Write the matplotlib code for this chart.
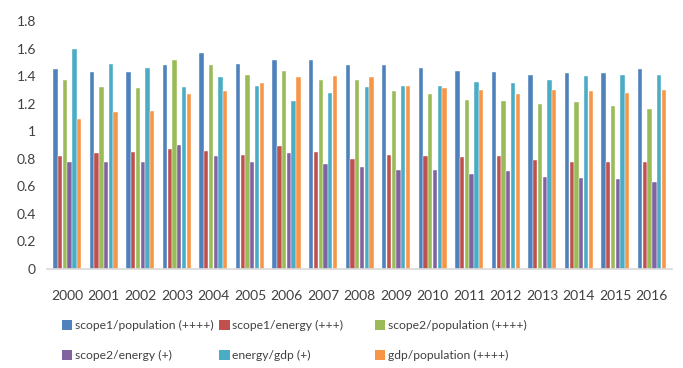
import numpy as np
import matplotlib.pyplot as plt
from matplotlib.patches import Patch

plt.rcParams['font.family'] = ['Lato', 'DejaVu Sans']

years = [str(y) for y in range(2000, 2017)]
scope1_population = [1.45, 1.43, 1.43, 1.48, 1.57, 1.49, 1.52, 1.52, 1.48, 1.48, 1.46, 1.44, 1.43, 1.41, 1.42, 1.42, 1.45]
scope1_energy = [0.82, 0.84, 0.85, 0.87, 0.86, 0.83, 0.89, 0.85, 0.80, 0.83, 0.82, 0.81, 0.82, 0.79, 0.78, 0.78, 0.78]
scope2_population = [1.37, 1.32, 1.31, 1.52, 1.48, 1.41, 1.44, 1.37, 1.37, 1.29, 1.27, 1.23, 1.22, 1.20, 1.21, 1.18, 1.16]
scope2_energy = [0.78, 0.78, 0.78, 0.90, 0.82, 0.78, 0.84, 0.76, 0.74, 0.72, 0.72, 0.69, 0.71, 0.67, 0.66, 0.65, 0.63]
energy_gdp = [1.60, 1.49, 1.46, 1.32, 1.39, 1.33, 1.22, 1.28, 1.32, 1.33, 1.33, 1.36, 1.35, 1.37, 1.40, 1.41, 1.41]
gdp_population = [1.09, 1.14, 1.15, 1.27, 1.29, 1.35, 1.39, 1.40, 1.39, 1.33, 1.31, 1.30, 1.27, 1.30, 1.29, 1.28, 1.30]

series = [scope1_population, scope1_energy, scope2_population, scope2_energy, energy_gdp, gdp_population]
labels = ["scope1/population (++++)", "scope1/energy (+++)", "scope2/population (++++)",
          "scope2/energy (+)", "energy/gdp (+)", "gdp/population (++++)"]
colors = ["#4F81BD", "#C0504D", "#9BBB59", "#8064A2", "#4BACC6", "#F79646"]
yticks = [0, 0.2, 0.4, 0.6, 0.8, 1.0, 1.2, 1.4, 1.6, 1.8]
ytick_labels = ["0", "0.2", "0.4", "0.6", "0.8", "1", "1.2", "1.4", "1.6", "1.8"]

fig = plt.figure(figsize=(6.83, 3.68), dpi=100)
ax = fig.add_axes([0.069, 0.269, 0.915, 0.674])

x = np.arange(len(years))
step = 0.13
width = 0.118
for i, (vals, c) in enumerate(zip(series, colors)):
    ax.bar(x + (i - 2.5) * step, vals, width=width, color=c, edgecolor="white", linewidth=0.3)

ax.set_xlim(-0.55, len(years) - 0.45)
ax.set_ylim(0, 1.8)
ax.set_yticks(yticks)
ax.set_yticklabels(ytick_labels)
ax.set_xticks(x)
ax.set_xticklabels(years)
ax.tick_params(length=0, labelsize=10, colors="#404040")
ax.tick_params(axis="x", pad=15)
ax.tick_params(axis="y", pad=8)
for s in ["top", "right", "left"]:
    ax.spines[s].set_visible(False)
ax.spines["bottom"].set_color("#D9D9D9")
ax.spines["bottom"].set_linewidth(1.2)

handles = [Patch(facecolor=c) for c in colors]
col_x = [0.091, 0.321, 0.549]
for j in range(3):
    leg = fig.legend(handles=[handles[j], handles[j + 3]], labels=[labels[j], labels[j + 3]],
                     loc="upper left", bbox_to_anchor=(col_x[j], 0.13), frameon=False,
                     handlelength=0.85, handleheight=0.85, handletextpad=0.2,
                     labelspacing=1.55, borderpad=0, borderaxespad=0,
                     prop={"size": 8.7}, labelcolor="#404040")

fig.savefig("out.png", dpi=100)
